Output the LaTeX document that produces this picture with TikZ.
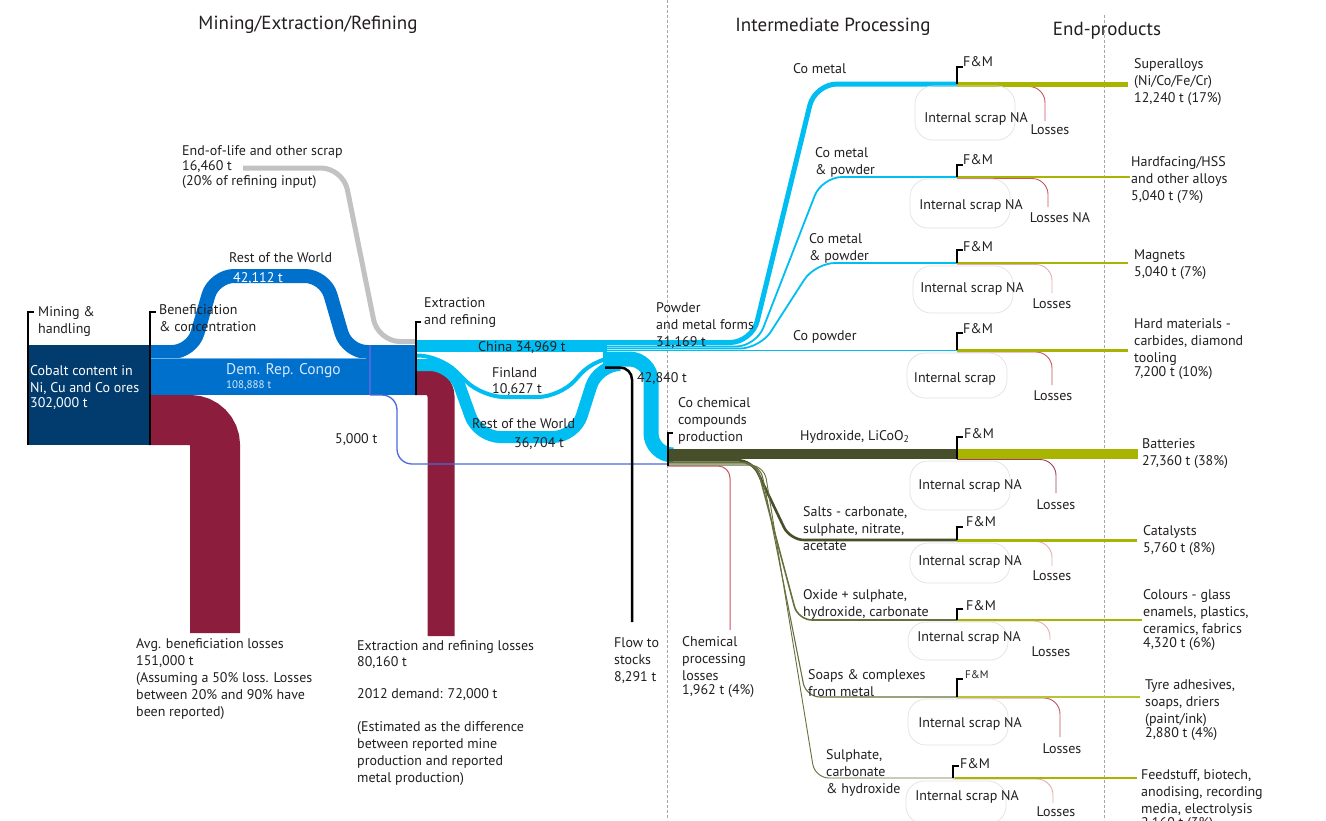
\documentclass[tikz,border=0pt]{standalone}
\usepackage{fontspec}
\setmainfont{PT Sans}
\definecolor{cNavy}{HTML}{023B6E}
\definecolor{cBlue}{HTML}{0070CD}
\definecolor{cMaroon}{HTML}{8D1D3C}
\definecolor{cCyan}{HTML}{00BEF2}
\definecolor{cScrap}{HTML}{C2C2C2}
\definecolor{cDkOlive}{HTML}{464F2A}
\definecolor{cOlv}{HTML}{68703E}
\definecolor{cOlive}{HTML}{A8B400}
\definecolor{cLoss}{HTML}{C85560}
\definecolor{cLossLt}{HTML}{E3AEB2}
\definecolor{cThin}{HTML}{4A69DC}
\definecolor{cInk}{HTML}{231F20}
\definecolor{cBoxLine}{HTML}{E2E2E2}
\definecolor{cCongo}{HTML}{D6E8FA}
\newcommand\lblfont{\fontsize{14}{17}\selectfont}
\newcommand\headfont{\fontsize{19}{22}\selectfont}
\tikzset{
  lbl/.style={anchor=north west, inner sep=0pt, align=left, font=\lblfont,
    text=cInk, yshift=4pt},
  tag/.style={anchor=mid, inner sep=0pt, font=\lblfont, text=cInk, yshift=-2.5pt},
  head/.style={anchor=mid, inner sep=0pt, font=\headfont, text=cInk},
  divider/.style={draw=gray!70, line width=0.8pt, dash pattern=on 3pt off 2pt},
  bracket/.style={draw=black, line width=1.8pt},
  lossline/.style={draw=cLoss, line width=0.9pt, rounded corners=16pt},
  lossfaint/.style={draw=cLossLt, line width=0.9pt, rounded corners=16pt},
  scrapbox/.style={draw=cBoxLine, line width=0.7pt, rounded corners=18pt},
}
\begin{document}
\begin{tikzpicture}[x=1pt,y=-1pt]
\path[use as bounding box, fill=white] (0,0) rectangle (1326,820);

% stage dividers
\draw[divider] (667,0) -- (667,820);
\draw[divider] (1104,15) -- (1104,820);

% stage headings
\node[head] (hMine) at (308,27) {Mining/Extraction/Refining};
\node[head] (hInter) at (833,29) {Intermediate Processing};
\node[head] (hEnd) at (1107,33) {End-products};

% ---------------- mining and beneficiation ----------------
\draw[cMaroon, line width=50pt, rounded corners=25pt] (148,420) -- (215,420) -- (215,633);
\fill[cNavy] (28,345) rectangle (150,445);
\draw[cBlue, line width=14pt, rounded corners=20pt] (150,352) -- (192,352) -- (214,276) -- (325,276) -- (347,352) -- (372,352);
\fill[cBlue] (150,358) rectangle (372,395);
\draw[white, opacity=0.45, line width=0.5pt] (150,358.5) -- (366,358.5);

% ---------------- extraction and refining ----------------
\draw[cMaroon, line width=27pt, rounded corners=15pt] (414,381.5) -- (441,381.5) -- (441,636);
\fill[cBlue] (370,345) rectangle (416,395);
\draw[cThin, line width=1.5pt] (370,345) -- (370,395);
\draw[cThin, line width=1.3pt, rounded corners=15pt] (370,395) -- (397,395) -- (397,464) -- (667,464);
\draw[cScrap, line width=5pt, rounded corners=22pt] (243,168) -- (343,168) -- (378,341.5) -- (416,341.5);

% refined cobalt by country
\draw[cCyan, line width=12pt] (416,346) -- (606,346);
\draw[cCyan, line width=4pt, rounded corners=22pt] (416,355.5) -- (440,355.5) -- (482,397) -- (560,397) -- (596,357) -- (606,357);
\draw[cCyan, line width=12pt, rounded corners=22pt] (416,365) -- (452,365) -- (478,437) -- (575,437) -- (598,365) -- (606,365);
\fill[cCyan] (603,340) rectangle (607,366);

% to chemical compounds
\draw[cCyan, line width=15pt, rounded corners=22pt] (604,359) -- (651,359) -- (651,455) -- (668,455);
% to stocks
\draw[black, line width=2.5pt, rounded corners=12pt] (605,367.5) -- (632,367.5) -- (632,622);

% powder and metal forms
\draw[cCyan, line width=5pt, rounded corners=22pt] (605,342.5) -- (752,342.5) -- (815,84) -- (957,84);
\draw[cCyan, line width=1.8pt, rounded corners=20pt] (605,346.5) -- (756,346.5) -- (822,177) -- (957,177);
\draw[cCyan, line width=1.8pt, rounded corners=20pt] (605,348.5) -- (760,348.5) -- (815,263) -- (957,263);
\draw[cCyan, line width=1.8pt] (605,350.5) -- (957,350.5);

% chemical compounds
\draw[cLoss, line width=1pt, rounded corners=12pt] (668,466) -- (730,466) -- (730,630);
\draw[cDkOlive, line width=10pt] (667,454) -- (957,454);
\draw[cDkOlive, line width=2.6pt, rounded corners=14pt] (667,460.3) -- (752,460.3) -- (790,540) -- (957,540);
\draw[cOlv, line width=1.6pt, rounded corners=14pt] (667,462.4) -- (756,462.4) -- (798,620) -- (957,620);
\draw[cOlv, line width=1.1pt, rounded corners=14pt] (667,463.9) -- (760,463.9) -- (806,697) -- (957,697);
\draw[cOlv, line width=0.9pt, rounded corners=14pt] (667,465.1) -- (764,465.1) -- (815,778) -- (955,778);

% ---------------- fabrication and manufacturing ----------------
% losses
\draw[lossline] (957,86.5) -- (1045,86.5) -- (1045,121);
\draw[lossline] (957,178.5) -- (1048,178.5) -- (1048,207);
\draw[lossfaint] (957,264.5) -- (1052,264.5) -- (1052,293);
\draw[lossline] (957,352) -- (1052,352) -- (1052,385);
\draw[lossline, draw=cMaroon!85] (957,459.5) -- (1056,459.5) -- (1056,493);
\draw[lossfaint] (957,541.5) -- (1052,541.5) -- (1052,566);
\draw[lossfaint] (957,621) -- (1050,621) -- (1050,640);
\draw[lossline] (957,698) -- (1060,698) -- (1060,737);
\draw[lossfaint] (953,779) -- (1053,779) -- (1053,803);

% end-use flows
\draw[cOlive, line width=5pt] (957,84) -- (1128,84);
\draw[cOlive, line width=2pt] (957,177) -- (1130,177);
\draw[cOlive, line width=2pt] (957,263) -- (1128,263);
\draw[cOlive, line width=2.5pt] (957,350.5) -- (1128,350.5);
\fill[cOlive] (957,449) rectangle (1138,459);
\draw[cOlive, line width=3pt] (957,540) -- (1137,540);
\draw[cOlive, line width=2pt] (957,620) -- (1142,620);
\draw[cOlive!80, line width=2pt] (957,697) -- (1140,697);
\draw[cOlive, line width=1.5pt] (955,778) -- (1137,778);

% internal scrap loops
\draw[scrapbox] (915,86) rectangle (1015,140);
\draw[scrapbox] (910,179) rectangle (1010,228);
\draw[scrapbox] (913,266) rectangle (1013,313);
\draw[scrapbox] (907,353) rectangle (1007,398);
\draw[scrapbox] (910,461) rectangle (1010,510);
\draw[scrapbox] (910,543) rectangle (1010,583);
\draw[scrapbox] (908,622) rectangle (1008,660);
\draw[scrapbox] (908,699) rectangle (1008,745);
\draw[scrapbox] (906,781) rectangle (1006,824);

% stage brackets
\draw[bracket] (28,445) -- (28,312) -- (34,312);
\draw[bracket] (150,445) -- (150,312) -- (156,312);
\draw[bracket] (416,395) -- (416,322) -- (421,322);
\draw[bracket] (668,466) -- (668,433) -- (673,433);
\draw[bracket] (957,84) -- (957,67) -- (963,67);
\draw[bracket] (957,177) -- (957,165) -- (963,165);
\draw[bracket] (957,263) -- (957,250) -- (963,250);
\draw[bracket] (957,350) -- (957,333) -- (963,333);
\draw[bracket] (957,459) -- (957,437) -- (963,437);
\draw[bracket] (957,540) -- (957,527) -- (963,527);
\draw[bracket] (957,620) -- (957,609) -- (963,609);
\draw[bracket] (957,697) -- (957,679) -- (963,679);
\draw[bracket] (953,778) -- (953,766) -- (959,766);

% ---------------- labels: mining to refining ----------------
\node[lbl] (lMine) at (38,310) {Mining \&\\handling};
\node[lbl, text=white] (lOre) at (30,369) {Cobalt content in\\Ni, Cu and Co ores\\[-2pt]302,000 t};
\node[lbl] (lBenef) at (159,308) {Beneficiation\\\& concentration};
\node[lbl] (lEol) at (182,149) {End-of-life and other scrap\\[-2pt]16,460 t\\[-2pt](20\% of refining input)};
\node[lbl] (lRowA) at (229,256) {Rest of the World};
\node[lbl, text=white] (lRowAt) at (233,276) {42,112 t};
\node[lbl, text=cCongo, font=\fontsize{15.5}{17}\selectfont] (lDrc) at (226,367) {Dem. Rep. Congo};
\node[lbl, text=cCongo, font=\fontsize{11}{12}\selectfont] (lDrct) at (226,384) {108,888 t};
\node[lbl] (lFive) at (335,437) {5,000 t};
\node[lbl] (lExtr) at (424,301) {Extraction\\and refining};
\node[lbl] (lChina) at (478,345) {China 34,969 t};
\node[lbl] (lFin) at (492,371) {Finland\\[-1pt]10,627 t};
\node[lbl] (lRowB) at (472,422) {Rest of the World};
\node[lbl] (lRowBt) at (514,441) {36,704 t};
\node[lbl] (lPowder) at (656,306) {Powder\\and metal forms\\31,169 t};
\node[lbl] (lChemIn) at (637,376) {42,840 t};
\node[lbl] (lStock) at (614,641) {Flow to\\stocks\\8,291 t};
\node[lbl] (lChem) at (678,401) {Co chemical\\compounds\\production};
\node[lbl] (lChemLoss) at (682,640) {Chemical\\processing\\losses\\[-3pt]1,962 t (4\%)};
\node[lbl] (lBenLoss) at (136,642) {Avg. beneficiation losses\\151,000 t\\(Assuming a 50\% loss. Losses\\between 20\% and 90\% have\\been reported)};
\node[lbl] (lExtLoss) at (357,644) {Extraction and refining losses\\[-1pt]80,160 t\\[15pt]2012 demand: 72,000 t\\[16pt](Estimated as the difference\\between reported mine\\production and reported\\metal production)};

% ---------------- labels: intermediate products ----------------
\node[lbl] (lCoMetal) at (793,67) {Co metal};
\node[lbl] (lCmpA) at (815,151) {Co metal\\\& powder};
\node[lbl] (lCmpB) at (809,237) {Co metal\\\& powder};
\node[lbl] (lCoPow) at (793,334) {Co powder};
\node[lbl] (lHydr) at (800,434) {Hydroxide, LiCoO\textsubscript{2}};
\node[lbl] (lSalts) at (803,510) {Salts - carbonate,\\sulphate, nitrate,\\acetate};
\node[lbl] (lOxide) at (803,593) {Oxide + sulphate,\\hydroxide, carbonate};
\node[lbl] (lSoaps) at (808,673) {Soaps \& complexes\\from metal};
\node[lbl] (lSulph) at (826,753) {Sulphate,\\carbonate\\\& hydroxide};

% F&M marks
\node[lbl] (fm1) at (963,60) {F\&M};
\node[lbl] (fm2) at (963,158) {F\&M};
\node[lbl] (fm3) at (963,245) {F\&M};
\node[lbl] (fm4) at (963,327) {F\&M};
\node[lbl] (fm5) at (964,432) {F\&M};
\node[lbl] (fm6) at (966,520) {F\&M};
\node[lbl] (fm7) at (966,604) {F\&M};
\node[lbl, font=\fontsize{11}{12}\selectfont] (fm8) at (965,674) {F\&M};
\node[lbl] (fm9) at (960,762) {F\&M};

% internal scrap texts
\node[tag] (is1) at (976,117) {Internal scrap NA};
\node[tag] (is2) at (971,204) {Internal scrap NA};
\node[tag] (is3) at (972,287) {Internal scrap NA};
\node[tag] (is4) at (955,377) {Internal scrap};
\node[tag] (is5) at (970,484) {Internal scrap NA};
\node[tag] (is6) at (970,560) {Internal scrap NA};
\node[tag] (is7) at (969,636) {Internal scrap NA};
\node[tag] (is8) at (970,722) {Internal scrap NA};
\node[tag] (is9) at (967,795) {Internal scrap NA};

% losses texts
\node[tag] (ls1) at (1050,129) {Losses};
\node[tag] (ls2) at (1060,217) {Losses NA};
\node[tag] (ls3) at (1052,303) {Losses};
\node[tag] (ls4) at (1053,395) {Losses};
\node[tag] (ls5) at (1056,504) {Losses};
\node[tag] (ls6) at (1052,575) {Losses};
\node[tag] (ls7) at (1051,651) {Losses};
\node[tag] (ls8) at (1062,748) {Losses};
\node[tag] (ls9) at (1056,811) {Losses};

% ---------------- labels: end products ----------------
\node[lbl] (eSuper) at (1134,62) {Superalloys\\(Ni/Co/Fe/Cr)\\12,240 t (17\%)};
\node[lbl] (eHard) at (1131,160) {Hardfacing/HSS\\and other alloys\\5,040 t (7\%)};
\node[lbl] (eMag) at (1134,253) {Magnets\\5,040 t (7\%)};
\node[lbl] (eCarb) at (1134,322) {Hard materials -\\carbides, diamond\\tooling\\[-3pt]7,200 t (10\%)};
\node[lbl] (eBatt) at (1142,442) {Batteries\\27,360 t (38\%)};
\node[lbl] (eCat) at (1143,529) {Catalysts\\5,760 t (8\%)};
\node[lbl] (eCol) at (1143,593) {Colours - glass\\enamels, plastics,\\ceramics, fabrics\\[-3pt]4,320 t (6\%)};
\node[lbl] (eTyre) at (1145,683) {Tyre adhesives,\\soaps, driers\\(paint/ink)\\[-3pt]2,880 t (4\%)};
\node[lbl] (eFeed) at (1141,773) {Feedstuff, biotech,\\anodising, recording\\media, electrolysis\\[-3pt]2,160 t (3\%)};
\end{tikzpicture}
\end{document}
